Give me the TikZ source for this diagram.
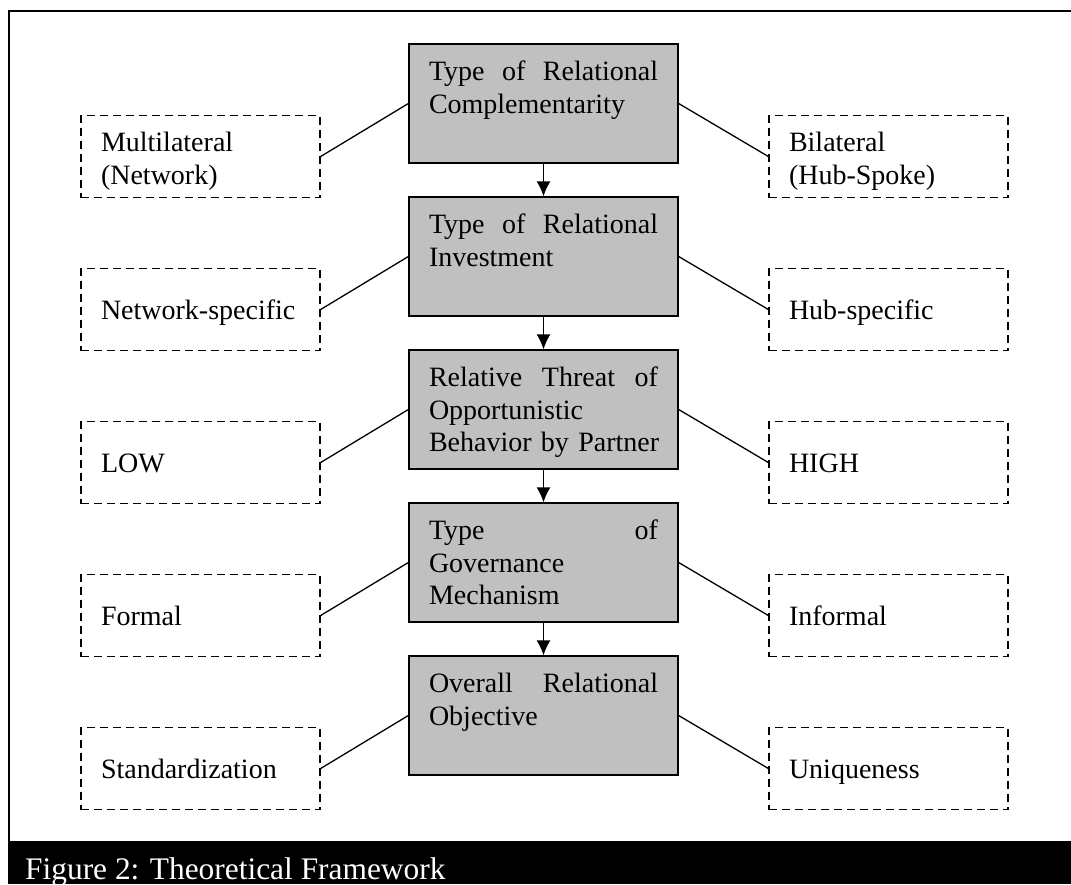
\documentclass[tikz,border=0pt]{standalone}
\usepackage{fontspec}
\setmainfont{Liberation Serif}
\usetikzlibrary{positioning,arrows.meta}

\definecolor{boxgray}{RGB}{192,192,192}
\tolerance=10000
\hyphenpenalty=10000

\tikzset{
  txt/.style={font=\fontsize{28}{32.5}\selectfont},
  level/.style={txt, draw, line width=1.3pt, fill=boxgray, text width=229pt, align=left,
    inner xsep=20pt, inner ysep=0pt, text height=36.5pt, text depth=82.5pt},
  side/.style={txt, draw, line width=1.3pt, dash pattern=on 8pt off 5pt, text width=199pt,
    align=left, inner xsep=20pt, inner ysep=0pt, text height=51pt, text depth=31pt},
  twoline/.style={text height=36pt, text depth=46pt}
}

\begin{document}
\begin{tikzpicture}[x=1pt,y=-1pt,node distance=153pt,on grid,>={Latex[length=15pt,width=14pt]}]

	\useasboundingbox (0,0) rectangle (1071,884);
	\draw[line width=2pt] (9,11) rectangle (1072,842);
	\fill (8,842) rectangle (1071,884);
	\node[font=\fontsize{31.4}{36}\selectfont, text=white, anchor=base west, inner sep=0pt] (cap) at (25,879) {Figure 2: Theoretical Framework};

	\node[level] (c1) at (543.5,103.5) {Type\hfill of\hfill Relational\\Complementarity};
	\node[level] (c2) [below=of c1] {Type\hfill of\hfill Relational\\Investment};
	\node[level] (c3) [below=of c2] {Relative\hfill Threat\hfill of\\Opportunistic\\\mbox{Behavior by Partner}};
	\node[level] (c4) [below=of c3] {Type\hfill of\\Governance\\Mechanism};
	\node[level] (c5) [below=of c4] {Overall\hfill Relational\\Objective};

	\node[side,twoline] (l1) [below left=53pt and 343pt of c1] {Multilateral\\(Network)};
	\node[side,twoline] (r1) [below right=53pt and 345pt of c1] {Bilateral\\(Hub-Spoke)};
	\node[side] (l2) [below left=53pt and 343pt of c2] {Network-specific};
	\node[side] (r2) [below right=53pt and 345pt of c2] {Hub-specific};
	\node[side] (l3) [below left=53pt and 343pt of c3] {LOW};
	\node[side] (r3) [below right=53pt and 345pt of c3] {HIGH};
	\node[side] (l4) [below left=53pt and 343pt of c4] {Formal};
	\node[side] (r4) [below right=53pt and 345pt of c4] {Informal};
	\node[side] (l5) [below left=53pt and 343pt of c5] {Standardization};
	\node[side] (r5) [below right=53pt and 345pt of c5] {Uniqueness};

	\foreach \i/\j in {1/2,2/3,3/4,4/5}
		\draw[->, line width=1.5pt] (c\i.south) -- (c\j.north);

	\foreach \i in {1,...,5}{
		\draw[line width=1.3pt] (c\i.west) -- (l\i.east);
		\draw[line width=1.3pt] (c\i.east) -- (r\i.west);
	}

\end{tikzpicture}
\end{document}
